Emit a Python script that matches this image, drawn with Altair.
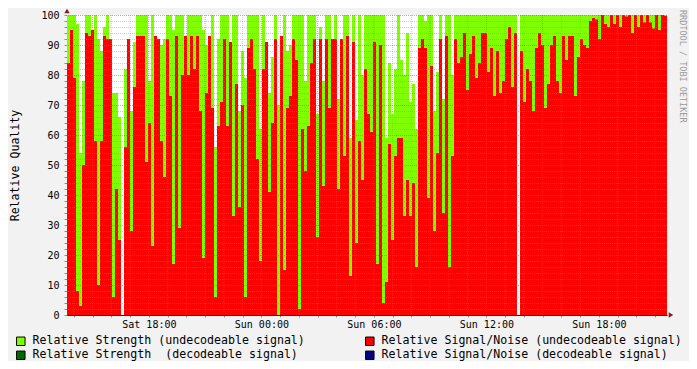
import altair as alt
import pandas as pd

# Relative Strength (undecodeable) -- green area, one value per 576 s column
strength = [
    100, 100, 100, 97, 54, 78, 100, 100, 90, 100, 92, 88, 96, 100, 88, 74, 74, 66, 0, 82,
    85, 68, 91, 100, 100, 100, 100, 78, 100, 92, 90, 90, 92, 100, 100, 95, 100, 100, 100, 90,
    100, 100, 100, 100, 100, 95, 90, 88, 100, 56, 92, 100, 100, 100, 90, 100, 100, 68, 88, 79,
    100, 100, 100, 100, 62, 100, 85, 74, 86, 100, 70, 90, 100, 88, 90, 100, 100, 100, 100, 78,
    100, 100, 100, 67, 96, 78, 100, 100, 90, 100, 72, 88, 100, 100, 59, 100, 65, 100, 80, 100,
    100, 100, 100, 100, 100, 100, 59, 84, 67, 82, 100, 85, 80, 94, 71, 77, 62, 100, 100, 98,
    100, 100, 68, 81, 100, 72, 100, 100, 80, 100, 100, 100, 100, 100, 100, 100, 100, 100, 100, 100,
    100, 100, 100, 100, 100, 100, 100, 100, 100, 100, 0, 100, 100, 100, 100, 100, 100, 100, 100, 100,
    100, 100, 100, 100, 100, 100, 100, 100, 100, 100, 100, 100, 100, 100, 100, 100, 100, 100, 100, 100,
    100, 100, 100, 100, 100, 100, 100, 100, 100, 100, 100, 100, 100, 100, 100, 100, 100, 100, 100, 100,
]

# Relative Signal/Noise (undecodeable) -- red area
snr = [
    84, 95, 79, 8, 3, 50, 94, 93, 95, 58, 10, 58, 93, 92, 92, 6, 42, 25, 0, 56,
    92, 28, 76, 93, 93, 93, 51, 64, 23, 93, 92, 58, 46, 92, 73, 17, 93, 29, 80, 93,
    80, 93, 82, 93, 68, 19, 74, 93, 69, 6, 63, 71, 92, 63, 91, 33, 77, 36, 70, 6,
    89, 92, 82, 52, 18, 82, 91, 41, 64, 92, 0, 93, 15, 69, 73, 92, 85, 2, 62, 48,
    63, 84, 92, 26, 92, 43, 92, 69, 92, 92, 42, 92, 53, 93, 13, 91, 24, 58, 45, 82,
    67, 61, 91, 17, 90, 4, 11, 57, 25, 53, 59, 59, 33, 45, 33, 44, 16, 89, 92, 89,
    39, 83, 28, 54, 92, 34, 93, 16, 53, 92, 84, 86, 94, 75, 87, 93, 79, 84, 94, 94,
    81, 89, 73, 88, 74, 78, 92, 96, 76, 94, 0, 88, 71, 82, 78, 68, 89, 94, 90, 69,
    77, 90, 93, 78, 74, 93, 85, 93, 93, 73, 86, 92, 90, 89, 98, 99, 98.5, 92, 100, 97,
    96, 100, 97, 100, 96, 100, 99.5, 100, 94, 100, 96, 100, 97.5, 100, 97.5, 95.5, 100, 95, 100, 99.7,
]

# legend order: left column first, then right column
series_names = [
    "Relative Strength (undecodeable signal)",
    "Relative Strength \u00a0(decodeable signal)",
    "Relative Signal/Noise (undecodeable signal)",
    "Relative Signal/Noise (decodeable signal)",
]
series_colors = ["#80ff00", "#006600", "#ff0000", "#000080"]
watermark = "RRDTOOL / TOBI OETIKER"

y_ticks = list(range(0, 101, 2))
y_major = [10, 20, 30, 40, 50, 60, 70, 80, 90, 100]
y_minor = [v for v in y_ticks if v % 10 != 0]

STEP_MS = 576000
HOUR_MS = 3600000
start_ms = pd.Timestamp("2008-03-01 13:38:00").value // 10**6
end_ms = start_ms + len(snr) * STEP_MS
first_hour = pd.Timestamp("2008-03-01 14:00:00").value // 10**6
hours = [first_hour + k * HOUR_MS for k in range(40) if first_hour + k * HOUR_MS < end_ms]
major_hours = [h for h in hours if (h // HOUR_MS) % 3 == 0]
minor_hours = [h for h in hours if (h // HOUR_MS) % 3 != 0]

df = pd.DataFrame({
    "t0": [start_ms + i * STEP_MS for i in range(len(snr))],
    "t1": [start_ms + (i + 1) * STEP_MS for i in range(len(snr))],
    "strength": strength,
    "snr": snr,
    "zero": [0] * len(snr),
})
df["s_name"] = series_names[0]
df["n_name"] = series_names[2]

FONT = "DejaVu Sans Mono"
xscale = alt.Scale(type="utc", domain=[start_ms, end_ms], nice=False)
yscale = alt.Scale(domain=[0, 100], nice=False, zero=True)
cscale = alt.Scale(domain=series_names, range=series_colors)
legend = alt.Legend(
    title=None, orient="none", legendX=-52, legendY=320, columns=2,
    symbolType="square", symbolSize=72, symbolStrokeColor="black", symbolStrokeWidth=1,
    symbolOpacity=1, labelFont=FONT, labelFontSize=11.6, labelColor="black",
    labelLimit=600, labelOffset=6, columnPadding=58, rowPadding=0.5, padding=0,
)

xaxis = alt.Axis(
    values=hours, title=None, grid=False,
    labelExpr="utchours(datum.value) % 6 == 0 ? utcFormat(datum.value, '%a %H:%M') : ''",
    labelFont=FONT, labelFontSize=10, labelColor="black", labelPadding=2,
    labelFlush=False, labelOverlap=False, tickSize=2, tickColor="#8f8f8f",
    domainColor="#1f1f1f",
)
yaxis = alt.Axis(
    values=y_ticks, grid=False, title="Relative Quality",
    labelExpr="datum.value % 10 == 0 ? datum.value : ''",
    labelFont=FONT, labelFontSize=10, labelColor="black", labelPadding=5,
    labelOverlap=False, tickSize=3, tickColor="#8f8f8f", domainColor="#1f1f1f",
    titleFont=FONT, titleFontSize=11.6, titleFontWeight="normal", titleColor="black",
    titleAngle=270, titleX=-52, titleY=150, titleAlign="center", titleBaseline="middle",
)

base = alt.Chart(df)
green = base.mark_rect().encode(
    x=alt.X("t0:T", scale=xscale, axis=xaxis),
    x2="t1:T",
    y=alt.Y("strength:Q", scale=yscale, axis=yaxis),
    y2="zero:Q",
    color=alt.Color("s_name:N", scale=cscale, legend=legend),
)
red = base.mark_rect().encode(
    x=alt.X("t0:T", scale=xscale, axis=xaxis),
    x2="t1:T",
    y=alt.Y("snr:Q", scale=yscale, axis=yaxis),
    y2="zero:Q",
    color=alt.Color("n_name:N", scale=cscale, legend=legend),
)

hminor = alt.Chart(pd.DataFrame({"v": y_minor})).mark_rule(
    color="#8f8f8f", opacity=0.45, strokeDash=[1, 1], yOffset=0.5
).encode(y=alt.Y("v:Q", scale=yscale, axis=yaxis))
hmajor = alt.Chart(pd.DataFrame({"v": y_major})).mark_rule(
    color="#de4f4f", opacity=0.6, strokeDash=[1, 1], yOffset=0.5
).encode(y=alt.Y("v:Q", scale=yscale, axis=yaxis))
vminor = alt.Chart(pd.DataFrame({"t": minor_hours})).mark_rule(
    color="#8f8f8f", opacity=0.45, strokeDash=[1, 1]
).encode(x=alt.X("t:T", scale=xscale, axis=xaxis))
vmajor = alt.Chart(pd.DataFrame({"t": major_hours})).mark_rule(
    color="#de4f4f", opacity=0.6, strokeDash=[1, 1]
).encode(x=alt.X("t:T", scale=xscale, axis=xaxis))

x_arrow = alt.Chart(pd.DataFrame({"t": [end_ms], "v": [0]})).mark_point(
    shape="triangle-right", filled=True, size=28, color="#801f1f", opacity=1, xOffset=4
).encode(x=alt.X("t:T", scale=xscale, axis=xaxis), y=alt.Y("v:Q", scale=yscale, axis=yaxis))
y_arrow = alt.Chart(pd.DataFrame({"t": [start_ms], "v": [100]})).mark_point(
    shape="triangle-up", filled=True, size=28, color="#801f1f", opacity=1, yOffset=-4
).encode(x=alt.X("t:T", scale=xscale, axis=xaxis), y=alt.Y("v:Q", scale=yscale, axis=yaxis))

# vertical watermark at the right edge, anchored to the top-right corner of the plot
mark_df = pd.DataFrame({"t": [end_ms], "v": [100], "label": [watermark]})
wm = alt.Chart(mark_df).mark_text(
    angle=90, align="left", baseline="middle", dx=-5, dy=-16,
    font=FONT, fontSize=8.5, color="#9a9a9a",
).encode(
    x=alt.X("t:T", scale=xscale, axis=xaxis),
    y=alt.Y("v:Q", scale=yscale, axis=yaxis),
    text="label:N",
)

chart = alt.layer(green, red, hminor, hmajor, vminor, vmajor, x_arrow, y_arrow, wm).properties(
    width=600,
    height=300,
    padding={"left": 59, "top": 7, "right": 22, "bottom": 46},
    autosize=alt.AutoSizeParams(type="none"),
    background="#f2f2f2",
).configure_view(fill="white", strokeWidth=0)

chart.save("out.html", embed_options={"renderer": "svg", "actions": False})
